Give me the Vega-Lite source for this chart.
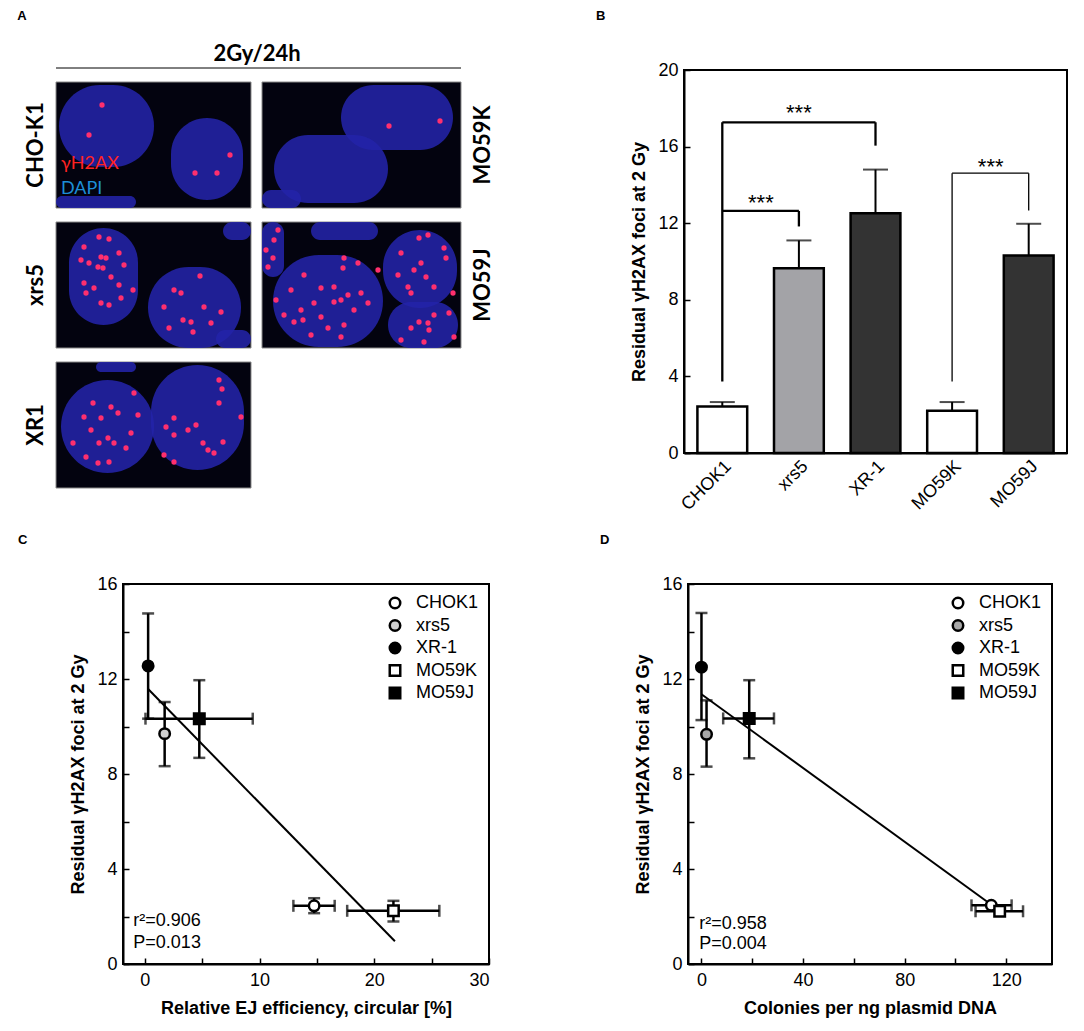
{
  "$schema": "https://vega.github.io/schema/vega-lite/v6.json",
  "padding": {"left": 16, "top": 9, "right": 0, "bottom": 0},
  "background": "white",
  "config": {
    "font": "Liberation Sans",
    "view": {"stroke": "black", "strokeWidth": 2},
    "axis": {
      "grid": false, "zindex": 1, "domainColor": "black", "domainWidth": 2,
      "tickColor": "black", "tickWidth": 1.5, "tickSize": -6, "labelPadding": 12,
      "labelColor": "black", "labelFontSize": 18, "labelFont": "Liberation Sans",
      "titleColor": "black", "titleFontSize": 18, "titleFontWeight": "bold", "titleFont": "Liberation Sans"
    },
    "legend": {"title": null, "orient": "top-right", "offset": 10, "labelFontSize": 18, "labelColor": "black", "symbolSize": 110, "symbolStrokeWidth": 2.5, "rowPadding": 0.5, "labelOffset": 12},
    "title": {"fontSize": 13, "fontWeight": "bold", "font": "Liberation Sans", "color": "black", "anchor": "start", "frame": "bounds"}
  },
  "datasets": {
    "tiles": [
      {"x0": 55, "x1": 250, "y0": 82, "y1": 208},
      {"x0": 261, "x1": 460, "y0": 82, "y1": 208},
      {"x0": 55, "x1": 250, "y0": 222, "y1": 348},
      {"x0": 261, "x1": 460, "y0": 222, "y1": 348},
      {"x0": 55, "x1": 250, "y0": 362, "y1": 488}
    ],
    "nuclei": [
      {"x0": 58, "x1": 153, "y0": 85, "y1": 167},
      {"x0": 170, "x1": 242, "y0": 118, "y1": 200},
      {"x0": 55, "x1": 135, "y0": 196, "y1": 208},
      {"x0": 340, "x1": 452, "y0": 85, "y1": 150},
      {"x0": 273, "x1": 387, "y0": 135, "y1": 203},
      {"x0": 261, "x1": 300, "y0": 190, "y1": 208},
      {"x0": 68, "x1": 137, "y0": 228, "y1": 325},
      {"x0": 147, "x1": 240, "y0": 267, "y1": 348},
      {"x0": 222, "x1": 250, "y0": 222, "y1": 240},
      {"x0": 215, "x1": 250, "y0": 330, "y1": 348},
      {"x0": 272, "x1": 382, "y0": 255, "y1": 347},
      {"x0": 382, "x1": 456, "y0": 230, "y1": 308},
      {"x0": 387, "x1": 457, "y0": 302, "y1": 348},
      {"x0": 261, "x1": 283, "y0": 222, "y1": 277},
      {"x0": 310, "x1": 377, "y0": 222, "y1": 240},
      {"x0": 60, "x1": 153, "y0": 380, "y1": 473},
      {"x0": 150, "x1": 243, "y0": 365, "y1": 470},
      {"x0": 95, "x1": 135, "y0": 362, "y1": 372}
    ],
    "foci": [
      {"x": 101, "y": 105}, {"x": 194, "y": 173}, {"x": 216, "y": 173}, {"x": 229, "y": 155}, {"x": 88, "y": 135},
      {"x": 388, "y": 126}, {"x": 439, "y": 121},
      {"x": 98, "y": 237}, {"x": 108, "y": 239}, {"x": 83, "y": 247}, {"x": 80, "y": 260}, {"x": 88, "y": 263},
      {"x": 100, "y": 257}, {"x": 105, "y": 258}, {"x": 118, "y": 253}, {"x": 97, "y": 267}, {"x": 102, "y": 268},
      {"x": 110, "y": 277}, {"x": 118, "y": 285}, {"x": 83, "y": 283}, {"x": 93, "y": 288}, {"x": 120, "y": 298},
      {"x": 100, "y": 303}, {"x": 108, "y": 305}, {"x": 85, "y": 293}, {"x": 132, "y": 290}, {"x": 123, "y": 265},
      {"x": 199, "y": 276}, {"x": 173, "y": 290}, {"x": 163, "y": 307}, {"x": 182, "y": 320}, {"x": 190, "y": 322},
      {"x": 192, "y": 332}, {"x": 210, "y": 323}, {"x": 168, "y": 328}, {"x": 203, "y": 307}, {"x": 220, "y": 312},
      {"x": 180, "y": 293},
      {"x": 133, "y": 393}, {"x": 110, "y": 407}, {"x": 92, "y": 403}, {"x": 83, "y": 417}, {"x": 100, "y": 418},
      {"x": 117, "y": 413}, {"x": 137, "y": 415}, {"x": 90, "y": 430}, {"x": 107, "y": 438}, {"x": 113, "y": 443},
      {"x": 98, "y": 443}, {"x": 125, "y": 448}, {"x": 85, "y": 457}, {"x": 97, "y": 463}, {"x": 108, "y": 462},
      {"x": 72, "y": 443}, {"x": 130, "y": 433},
      {"x": 218, "y": 380}, {"x": 221, "y": 389}, {"x": 218, "y": 403}, {"x": 173, "y": 418}, {"x": 165, "y": 427},
      {"x": 173, "y": 435}, {"x": 187, "y": 430}, {"x": 240, "y": 417}, {"x": 202, "y": 443}, {"x": 222, "y": 442},
      {"x": 163, "y": 455}, {"x": 173, "y": 462}, {"x": 207, "y": 450}, {"x": 213, "y": 453}, {"x": 195, "y": 425},
      {"x": 343, "y": 258}, {"x": 357, "y": 263}, {"x": 342, "y": 268}, {"x": 303, "y": 275}, {"x": 320, "y": 288},
      {"x": 333, "y": 287}, {"x": 360, "y": 293}, {"x": 347, "y": 295}, {"x": 340, "y": 300}, {"x": 333, "y": 302},
      {"x": 275, "y": 300}, {"x": 290, "y": 290}, {"x": 300, "y": 310}, {"x": 313, "y": 303}, {"x": 283, "y": 315},
      {"x": 320, "y": 317}, {"x": 367, "y": 303}, {"x": 353, "y": 310}, {"x": 302, "y": 320}, {"x": 343, "y": 325},
      {"x": 327, "y": 328}, {"x": 310, "y": 335}, {"x": 340, "y": 337}, {"x": 293, "y": 322}, {"x": 377, "y": 270},
      {"x": 418, "y": 238}, {"x": 427, "y": 235}, {"x": 443, "y": 248}, {"x": 445, "y": 258}, {"x": 400, "y": 253},
      {"x": 420, "y": 263}, {"x": 397, "y": 275}, {"x": 413, "y": 270}, {"x": 425, "y": 277}, {"x": 407, "y": 287},
      {"x": 410, "y": 293}, {"x": 433, "y": 287}, {"x": 452, "y": 293},
      {"x": 418, "y": 322}, {"x": 427, "y": 323}, {"x": 428, "y": 330}, {"x": 410, "y": 328}, {"x": 433, "y": 315},
      {"x": 448, "y": 313}, {"x": 453, "y": 337}, {"x": 423, "y": 342}, {"x": 400, "y": 340},
      {"x": 277, "y": 230}, {"x": 273, "y": 240}, {"x": 265, "y": 250}, {"x": 272, "y": 258}, {"x": 267, "y": 267}
    ],
    "rowLabels": [
      {"label": "CHO-K1", "x": 35, "y": 145},
      {"label": "xrs5", "x": 35, "y": 285},
      {"label": "XR1", "x": 35, "y": 425},
      {"label": "MO59K", "x": 482, "y": 145},
      {"label": "MO59J", "x": 482, "y": 285}
    ],
    "stain": [
      {"label": "γH2AX", "x": 60, "y": 164},
      {"label": "DAPI", "x": 60, "y": 189}
    ],
    "bars": [
      {"cell": "CHOK1", "mean": 2.43, "upper": 2.66},
      {"cell": "xrs5", "mean": 9.65, "upper": 11.1},
      {"cell": "XR-1", "mean": 12.52, "upper": 14.8},
      {"cell": "MO59K", "mean": 2.21, "upper": 2.66},
      {"cell": "MO59J", "mean": 10.31, "upper": 11.97}
    ],
    "brackets": [
      {"a": "CHOK1", "b": "CHOK1", "y": 3.74, "y2": 17.27, "pair": "CHO"},
      {"a": "CHOK1", "b": "XR-1", "y": 17.27, "y2": 17.27, "pair": "CHO"},
      {"a": "XR-1", "b": "XR-1", "y": 17.27, "y2": 16.05, "pair": "CHO"},
      {"a": "CHOK1", "b": "xrs5", "y": 12.64, "y2": 12.64, "pair": "CHO"},
      {"a": "xrs5", "b": "xrs5", "y": 12.64, "y2": 11.83, "pair": "CHO"},
      {"a": "MO59K", "b": "MO59K", "y": 3.74, "y2": 14.61, "pair": "MO59"},
      {"a": "MO59K", "b": "MO59J", "y": 14.61, "y2": 14.61, "pair": "MO59"},
      {"a": "MO59J", "b": "MO59J", "y": 14.61, "y2": 12.66, "pair": "MO59"}
    ],
    "stars": [
      {"cell": "xrs5", "y": 17.75, "mid": false, "t": "***"},
      {"cell": "xrs5", "y": 13.05, "mid": true, "t": "***"},
      {"cell": "MO59J", "y": 14.95, "mid": true, "t": "***"}
    ],
    "ej": [
      {"line": "CHOK1", "x": 14.76, "y": 2.45, "xlo": 12.95, "xhi": 16.55, "ylo": 2.14, "yhi": 2.77},
      {"line": "xrs5", "x": 1.73, "y": 9.7, "xlo": null, "xhi": null, "ylo": 8.33, "yhi": 11.03},
      {"line": "XR-1", "x": 0.29, "y": 12.55, "xlo": null, "xhi": null, "ylo": 10.33, "yhi": 14.76},
      {"line": "MO59K", "x": 21.67, "y": 2.24, "xlo": 17.64, "xhi": 25.67, "ylo": 1.79, "yhi": 2.66},
      {"line": "MO59J", "x": 4.75, "y": 10.33, "xlo": 0.06, "xhi": 9.41, "ylo": 8.68, "yhi": 11.95}
    ],
    "colonies": [
      {"line": "CHOK1", "x": 114.1, "y": 2.47, "xlo": 106.3, "xhi": 122.1, "ylo": null, "yhi": null},
      {"line": "xrs5", "x": 2.0, "y": 9.67, "xlo": null, "xhi": null, "ylo": 8.31, "yhi": 11.1},
      {"line": "XR-1", "x": 0.0, "y": 12.5, "xlo": null, "xhi": null, "ylo": 10.27, "yhi": 14.78},
      {"line": "MO59K", "x": 117.4, "y": 2.22, "xlo": 107.9, "xhi": 126.6, "ylo": null, "yhi": null},
      {"line": "MO59J", "x": 18.8, "y": 10.34, "xlo": 8.55, "xhi": 28.55, "ylo": 8.66, "yhi": 11.95}
    ],
    "statsC": [
      {"t": "r²=0.906", "x": -1.0, "y": 1.79},
      {"t": "P=0.013", "x": -1.0, "y": 0.87}
    ],
    "statsD": [
      {"t": "r²=0.958", "x": -0.9, "y": 1.7},
      {"t": "P=0.004", "x": -0.9, "y": 0.84}
    ]
  },
  "spacing": 18,
  "resolve": {"scale": {"fill": "independent", "shape": "independent", "color": "independent", "stroke": "independent"}},
  "vconcat": [
    {
      "spacing": 3,
      "resolve": {"scale": {"fill": "independent", "shape": "independent", "color": "independent", "stroke": "independent"}},
      "hconcat": [
        {
          "width": 468,
          "height": 418,
          "view": {"stroke": null},
          "layer": [
            {
              "data": {"name": "tiles"},
              "mark": {"type": "rect", "fill": "#03030f", "stroke": "#8a8a8a", "strokeWidth": 1},
              "encoding": {
                "x": {"field": "x0", "type": "quantitative", "scale": {"domain": [122, 590], "nice": false, "zero": false}, "axis": null},
                "x2": {"field": "x1"},
                "y": {"field": "y0", "type": "quantitative", "scale": {"domain": [70, 488], "nice": false, "zero": false, "reverse": true}, "axis": null},
                "y2": {"field": "y1"}
              }
            },
            {
              "data": {"name": "nuclei"},
              "mark": {"type": "rect", "fill": "#2323a8", "opacity": 0.88, "cornerRadius": 60},
              "encoding": {
                "x": {"field": "x0", "type": "quantitative", "scale": {"domain": [122, 590], "nice": false, "zero": false}, "axis": null},
                "x2": {"field": "x1"},
                "y": {"field": "y0", "type": "quantitative", "scale": {"domain": [70, 488], "nice": false, "zero": false, "reverse": true}, "axis": null},
                "y2": {"field": "y1"}
              }
            },
            {
              "data": {"name": "foci"},
              "mark": {"type": "circle", "color": "#ff2f6e", "opacity": 1, "size": 28},
              "encoding": {
                "x": {"field": "x", "type": "quantitative", "scale": {"domain": [122, 590], "nice": false, "zero": false}, "axis": null},
                "y": {"field": "y", "type": "quantitative", "scale": {"domain": [70, 488], "nice": false, "zero": false, "reverse": true}, "axis": null}
              }
            },
            {
              "data": {"name": "stain"},
              "mark": {"type": "text", "font": "Lato", "fontSize": 18, "align": "left", "baseline": "middle"},
              "encoding": {
                "x": {"field": "x", "type": "quantitative", "scale": {"domain": [122, 590], "nice": false, "zero": false}, "axis": null},
                "y": {"field": "y", "type": "quantitative", "scale": {"domain": [70, 488], "nice": false, "zero": false, "reverse": true}, "axis": null},
                "text": {"field": "label"},
                "color": {"field": "label", "type": "nominal", "scale": {"domain": ["γH2AX", "DAPI"], "range": ["#ff2222", "#1d8fd8"]}, "legend": null}
              }
            },
            {
              "data": {"name": "rowLabels"},
              "mark": {"type": "text", "font": "Lato", "fontSize": 22, "fontWeight": "bold", "angle": 270, "align": "center", "baseline": "middle", "color": "black"},
              "encoding": {
                "x": {"field": "x", "type": "quantitative", "scale": {"domain": [122, 590], "nice": false, "zero": false}, "axis": null},
                "y": {"field": "y", "type": "quantitative", "scale": {"domain": [70, 488], "nice": false, "zero": false, "reverse": true}, "axis": null},
                "text": {"field": "label"}
              }
            },
            {
              "data": {"values": [{"t": "2Gy/24h", "x": 256, "y": 54}]},
              "mark": {"type": "text", "font": "Lato", "fontSize": 22, "fontWeight": "bold", "align": "center", "baseline": "middle", "color": "black"},
              "encoding": {
                "x": {"field": "x", "type": "quantitative", "scale": {"domain": [122, 590], "nice": false, "zero": false}, "axis": null},
                "y": {"field": "y", "type": "quantitative", "scale": {"domain": [70, 488], "nice": false, "zero": false, "reverse": true}, "axis": null},
                "text": {"field": "t"}
              }
            },
            {
              "data": {"values": [{"t": "A", "x": 21, "y": 16}]},
              "mark": {"type": "text", "font": "Liberation Sans", "fontSize": 13, "fontWeight": "bold", "align": "center", "baseline": "middle", "color": "black"},
              "encoding": {
                "x": {"field": "x", "type": "quantitative", "scale": {"domain": [122, 590], "nice": false, "zero": false}, "axis": null},
                "y": {"field": "y", "type": "quantitative", "scale": {"domain": [70, 488], "nice": false, "zero": false, "reverse": true}, "axis": null},
                "text": {"field": "t"}
              }
            },
            {
              "data": {"values": [{"x0": 55, "x1": 460, "y": 68}]},
              "mark": {"type": "rule", "color": "black", "strokeWidth": 1},
              "encoding": {
                "x": {"field": "x0", "type": "quantitative", "scale": {"domain": [122, 590], "nice": false, "zero": false}, "axis": null},
                "x2": {"field": "x1"},
                "y": {"field": "y", "type": "quantitative", "scale": {"domain": [70, 488], "nice": false, "zero": false, "reverse": true}, "axis": null}
              }
            }
          ]
        },
        {
          "width": 383,
          "height": 383,
          "title": {"text": "B", "dx": -35, "offset": 38},
          "layer": [
            {
              "data": {"name": "bars"},
              "mark": {"type": "bar", "stroke": "black", "strokeWidth": 2.5},
              "encoding": {
                "x": {
                  "field": "cell", "type": "nominal", "sort": null,
                  "scale": {"domain": ["CHOK1", "xrs5", "XR-1", "MO59K", "MO59J"], "paddingInner": 0.35, "paddingOuter": 0.175},
                  "axis": {"title": null, "labelAngle": -45, "labelPadding": 10}
                },
                "y": {
                  "field": "mean", "type": "quantitative",
                  "scale": {"domain": [0, 20], "nice": false},
                  "axis": {
                    "title": "Residual γH2AX foci at 2 Gy", "titlePadding": 9,
                    "values": [0, 2, 4, 6, 8, 10, 12, 14, 16, 18, 20],
                    "labelExpr": "datum.value % 4 == 0 ? datum.label : ''"
                  }
                },
                "fill": {
                  "field": "cell", "type": "nominal",
                  "scale": {"domain": ["CHOK1", "xrs5", "XR-1", "MO59K", "MO59J"], "range": ["#ffffff", "#a3a3a7", "#333333", "#ffffff", "#333333"]},
                  "legend": null
                }
              }
            },
            {
              "data": {"name": "bars"},
              "mark": {"type": "rule", "color": "black", "strokeWidth": 2},
              "encoding": {
                "x": {"field": "cell", "type": "nominal", "scale": {"domain": ["CHOK1", "xrs5", "XR-1", "MO59K", "MO59J"]}},
                "y": {"field": "mean", "type": "quantitative"},
                "y2": {"field": "upper"}
              }
            },
            {
              "data": {"name": "bars"},
              "mark": {"type": "tick", "color": "black", "thickness": 2, "size": 25, "orient": "horizontal"},
              "encoding": {
                "x": {"field": "cell", "type": "nominal", "scale": {"domain": ["CHOK1", "xrs5", "XR-1", "MO59K", "MO59J"]}},
                "y": {"field": "upper", "type": "quantitative"}
              }
            },
            {
              "data": {"name": "brackets"},
              "mark": {"type": "rule", "color": "black"},
              "encoding": {
                "x": {"field": "a", "type": "nominal", "scale": {"domain": ["CHOK1", "xrs5", "XR-1", "MO59K", "MO59J"]}},
                "x2": {"field": "b"},
                "y": {"field": "y", "type": "quantitative"},
                "y2": {"field": "y2"},
                "strokeWidth": {"condition": {"test": "datum.pair == 'MO59'", "value": 1.3}, "value": 2.3}
              }
            },
            {
              "data": {"name": "stars"},
              "transform": [{"filter": "!datum.mid"}],
              "mark": {"type": "text", "fontSize": 22, "baseline": "middle", "align": "center", "color": "black"},
              "encoding": {
                "x": {"field": "cell", "type": "nominal", "scale": {"domain": ["CHOK1", "xrs5", "XR-1", "MO59K", "MO59J"]}},
                "y": {"field": "y", "type": "quantitative"},
                "text": {"field": "t"}
              }
            },
            {
              "data": {"name": "stars"},
              "transform": [{"filter": "datum.mid"}],
              "mark": {"type": "text", "fontSize": 22, "baseline": "middle", "align": "center", "color": "black", "dx": -38},
              "encoding": {
                "x": {"field": "cell", "type": "nominal", "scale": {"domain": ["CHOK1", "xrs5", "XR-1", "MO59K", "MO59J"]}},
                "y": {"field": "y", "type": "quantitative"},
                "text": {"field": "t"}
              }
            }
          ]
        }
      ]
    },
    {
      "spacing": 107,
      "resolve": {"scale": {"fill": "independent", "shape": "independent", "color": "independent", "stroke": "independent"}},
      "hconcat": [
        {
          "width": 366,
          "height": 380,
          "title": {"text": "C", "dx": -52, "offset": 28},
          "data": {"name": "ej"},
          "encoding": {
            "x": {
              "field": "x", "type": "quantitative",
              "scale": {"domain": [-1.9, 30], "nice": false, "zero": false},
              "axis": {"title": "Relative EJ efficiency, circular [%]", "labelPadding": 13, "titlePadding": 10, "values": [0, 5, 10, 15, 20, 25, 30], "labelExpr": "datum.value % 10 == 0 ? datum.label : ''"}
            },
            "y": {
              "field": "y", "type": "quantitative",
              "scale": {"domain": [0, 16], "nice": false},
              "axis": {"title": "Residual γH2AX foci at 2 Gy", "titlePadding": 9, "values": [0, 2, 4, 6, 8, 10, 12, 14, 16], "labelExpr": "datum.value % 4 == 0 ? datum.label : ''"}
            }
          },
          "layer": [
            {
              "transform": [{"regression": "y", "on": "x", "extent": [0.29, 21.8]}],
              "mark": {"type": "line", "color": "black", "strokeWidth": 2}
            },
            {
              "transform": [{"filter": "datum.xlo != null"}],
              "mark": {"type": "rule", "color": "black", "strokeWidth": 2.5},
              "encoding": {"x": {"field": "xlo", "type": "quantitative"}, "x2": {"field": "xhi"}}
            },
            {
              "transform": [{"fold": ["xlo", "xhi"], "as": ["k", "v"]}, {"filter": "datum.v != null"}],
              "mark": {"type": "tick", "color": "black", "orient": "vertical", "size": 12, "thickness": 2.5},
              "encoding": {"x": {"field": "v", "type": "quantitative"}}
            },
            {
              "transform": [{"filter": "datum.ylo != null"}],
              "mark": {"type": "rule", "color": "black", "strokeWidth": 2.5},
              "encoding": {"y": {"field": "ylo", "type": "quantitative"}, "y2": {"field": "yhi"}}
            },
            {
              "transform": [{"fold": ["ylo", "yhi"], "as": ["k", "v"]}, {"filter": "datum.v != null"}],
              "mark": {"type": "tick", "color": "black", "orient": "horizontal", "size": 12, "thickness": 2.5},
              "encoding": {"y": {"field": "v", "type": "quantitative"}}
            },
            {
              "mark": {"type": "point", "filled": true, "opacity": 1, "strokeWidth": 2.5, "size": 110},
              "encoding": {
                "shape": {
                  "field": "line", "type": "nominal",
                  "scale": {"domain": ["CHOK1", "xrs5", "XR-1", "MO59K", "MO59J"], "range": ["circle", "circle", "circle", "square", "square"]}
                },
                "fill": {
                  "field": "line", "type": "nominal",
                  "scale": {"domain": ["CHOK1", "xrs5", "XR-1", "MO59K", "MO59J"], "range": ["#ffffff", "#d0d0d0", "#000000", "#ffffff", "#000000"]}
                },
                "stroke": {
                  "field": "line", "type": "nominal",
                  "scale": {"domain": ["CHOK1", "xrs5", "XR-1", "MO59K", "MO59J"], "range": ["#000000", "#000000", "#000000", "#000000", "#000000"]}
                }
              }
            },
            {
              "data": {"name": "statsC"},
              "mark": {"type": "text", "fontSize": 18, "align": "left", "baseline": "middle", "color": "black"},
              "encoding": {"text": {"field": "t"}}
            }
          ]
        },
        {
          "width": 364,
          "height": 380,
          "title": {"text": "D", "dx": -35, "offset": 28},
          "data": {"name": "colonies"},
          "encoding": {
            "x": {
              "field": "x", "type": "quantitative",
              "scale": {"domain": [-5.3, 138], "nice": false, "zero": false},
              "axis": {"title": "Colonies per ng plasmid DNA", "labelPadding": 13, "titlePadding": 10, "values": [0, 20, 40, 60, 80, 100, 120], "labelExpr": "datum.value % 40 == 0 ? datum.label : ''"}
            },
            "y": {
              "field": "y", "type": "quantitative",
              "scale": {"domain": [0, 16], "nice": false},
              "axis": {"title": "Residual γH2AX foci at 2 Gy", "titlePadding": 9, "values": [0, 2, 4, 6, 8, 10, 12, 14, 16], "labelExpr": "datum.value % 4 == 0 ? datum.label : ''"}
            }
          },
          "layer": [
            {
              "transform": [{"regression": "y", "on": "x", "extent": [0, 114]}],
              "mark": {"type": "line", "color": "black", "strokeWidth": 2}
            },
            {
              "transform": [{"filter": "datum.xlo != null"}],
              "mark": {"type": "rule", "color": "black", "strokeWidth": 2.5},
              "encoding": {"x": {"field": "xlo", "type": "quantitative"}, "x2": {"field": "xhi"}}
            },
            {
              "transform": [{"fold": ["xlo", "xhi"], "as": ["k", "v"]}, {"filter": "datum.v != null"}],
              "mark": {"type": "tick", "color": "black", "orient": "vertical", "size": 12, "thickness": 2.5},
              "encoding": {"x": {"field": "v", "type": "quantitative"}}
            },
            {
              "transform": [{"filter": "datum.ylo != null"}],
              "mark": {"type": "rule", "color": "black", "strokeWidth": 2.5},
              "encoding": {"y": {"field": "ylo", "type": "quantitative"}, "y2": {"field": "yhi"}}
            },
            {
              "transform": [{"fold": ["ylo", "yhi"], "as": ["k", "v"]}, {"filter": "datum.v != null"}],
              "mark": {"type": "tick", "color": "black", "orient": "horizontal", "size": 12, "thickness": 2.5},
              "encoding": {"y": {"field": "v", "type": "quantitative"}}
            },
            {
              "mark": {"type": "point", "filled": true, "opacity": 1, "strokeWidth": 2.5, "size": 110},
              "encoding": {
                "shape": {
                  "field": "line", "type": "nominal",
                  "scale": {"domain": ["CHOK1", "xrs5", "XR-1", "MO59K", "MO59J"], "range": ["circle", "circle", "circle", "square", "square"]}
                },
                "fill": {
                  "field": "line", "type": "nominal",
                  "scale": {"domain": ["CHOK1", "xrs5", "XR-1", "MO59K", "MO59J"], "range": ["#ffffff", "#a8a8a8", "#000000", "#ffffff", "#000000"]}
                },
                "stroke": {
                  "field": "line", "type": "nominal",
                  "scale": {"domain": ["CHOK1", "xrs5", "XR-1", "MO59K", "MO59J"], "range": ["#000000", "#000000", "#000000", "#000000", "#000000"]}
                }
              }
            },
            {
              "data": {"name": "statsD"},
              "mark": {"type": "text", "fontSize": 18, "align": "left", "baseline": "middle", "color": "black"},
              "encoding": {"text": {"field": "t"}}
            }
          ]
        }
      ]
    }
  ]
}
